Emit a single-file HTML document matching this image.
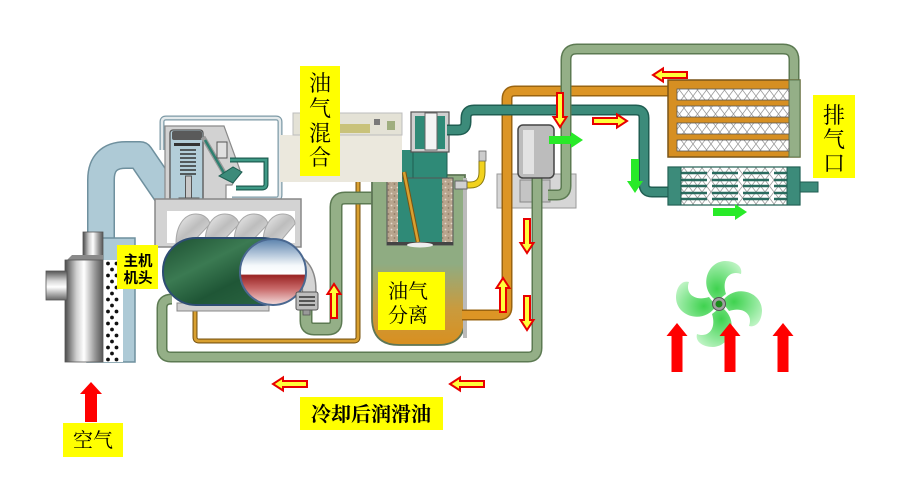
<!DOCTYPE html>
<html><head><meta charset="utf-8">
<style>
html,body{margin:0;padding:0;background:#fff;}
svg{display:block;}
.s{font-family:"Liberation Serif","Noto Serif CJK SC",serif;fill:#000;}
.h{font-family:"Liberation Sans","Noto Sans CJK SC",sans-serif;fill:#000;font-weight:bold;}
</style></head><body>
<svg width="900" height="500" viewBox="0 0 900 500" xmlns="http://www.w3.org/2000/svg">
<defs>
 <linearGradient id="metal" x1="0" x2="1" y1="0" y2="0">
  <stop offset="0" stop-color="#4a4a4a"/><stop offset="0.3" stop-color="#cfcfcf"/><stop offset="0.5" stop-color="#ffffff"/><stop offset="0.78" stop-color="#9a9a9a"/><stop offset="1" stop-color="#555"/>
 </linearGradient>
 <linearGradient id="metalv" x1="0" x2="0" y1="0" y2="1">
  <stop offset="0" stop-color="#555"/><stop offset="0.35" stop-color="#d8d8d8"/><stop offset="0.55" stop-color="#fff"/><stop offset="1" stop-color="#666"/>
 </linearGradient>
 <pattern id="dots" x="103" y="260" width="20" height="12" patternUnits="userSpaceOnUse">
  <rect width="20" height="12" fill="#fff"/>
  <circle cx="5" cy="3.5" r="1.9" fill="#111"/><circle cx="13.5" cy="3.5" r="1.9" fill="#111"/>
  <circle cx="9" cy="9.5" r="1.9" fill="#111"/>
 </pattern>
 <pattern id="xh" width="18" height="12" patternUnits="userSpaceOnUse">
  <rect width="18" height="12" fill="#fff"/>
  <path d="M0,0 L9,12 L18,0 M0,12 L9,0 L18,12" stroke="#9a9a9a" stroke-width="0.8" fill="none"/>
 </pattern>
 <pattern id="brown" width="6" height="6" patternUnits="userSpaceOnUse">
  <rect width="6" height="6" fill="#b8a58e"/>
  <circle cx="1.5" cy="1.5" r="0.9" fill="#e6dccd"/><circle cx="4.5" cy="4" r="0.9" fill="#8c7a64"/>
 </pattern>
 <linearGradient id="sep" x1="0" x2="0" y1="175" y2="346" gradientUnits="userSpaceOnUse">
  <stop offset="0" stop-color="#8fac82"/><stop offset="0.52" stop-color="#8fac82"/><stop offset="0.78" stop-color="#c99b3e"/><stop offset="1" stop-color="#d98f1f"/>
 </linearGradient>
 <linearGradient id="ball" x1="0" x2="0" y1="0" y2="1">
  <stop offset="0" stop-color="#5b82ad"/><stop offset="0.4" stop-color="#f4f8fb"/><stop offset="0.53" stop-color="#ffffff"/><stop offset="0.55" stop-color="#9a2424"/><stop offset="0.75" stop-color="#c86868"/><stop offset="1" stop-color="#f4dede"/>
 </linearGradient>
 <linearGradient id="rot" x1="0" x2="1" y1="0" y2="1">
  <stop offset="0" stop-color="#1c4f31"/><stop offset="0.35" stop-color="#3b7a52"/><stop offset="0.6" stop-color="#1f5636"/><stop offset="1" stop-color="#2f6a45"/>
 </linearGradient>
 <linearGradient id="lobe" x1="0" x2="1" y1="0" y2="1">
  <stop offset="0" stop-color="#f2f2f2"/><stop offset="0.5" stop-color="#bdbdbd"/><stop offset="1" stop-color="#e6e6e6"/>
 </linearGradient>
 <radialGradient id="blade" cx="0.3" cy="0.7" r="0.9">
  <stop offset="0" stop-color="#3fd24f"/><stop offset="0.6" stop-color="#8fe89a"/><stop offset="1" stop-color="#c8f6cc"/>
 </radialGradient>
 <path id="ha" d="M-17,-3 L7,-3 L7,-6.5 L17,0 L7,6.5 L7,3 L-17,3 Z" fill="#ffff3a" stroke="#e80000" stroke-width="2" stroke-linejoin="miter"/>
 <path id="ga" d="M-17,-4 L5,-4 L5,-8 L17,0 L5,8 L5,4 L-17,4 Z" fill="#28ea28"/>
 <path id="bl" d="M-2,-3 C-20,-14 -14,-42 6,-43 C17,-43 24,-37 22,-30 C12,-34 2,-26 7,-10 Z" fill="url(#blade)"/>
</defs>

<!-- thermostat base -->
<rect x="497" y="174" width="79" height="34" fill="#d6d6d6" stroke="#9a9a9a" stroke-width="1"/>
<path d="M520,180 h30 v22 h-30 z" fill="#c4c4c4" stroke="#888" stroke-width="1"/>

<!-- blue intake pipe -->
<path d="M101,362 L101,180 Q101,155 126,155 L140,155 L170,199" fill="none" stroke="#6f909e" stroke-width="28" stroke-linejoin="round"/>
<path d="M101,362 L101,180 Q101,155 126,155 L140,155 L170,199" fill="none" stroke="#aecad6" stroke-width="25" stroke-linejoin="round"/>
<rect x="87" y="238" width="48" height="124" fill="#aecad6" stroke="#6f909e" stroke-width="1.5"/>

<!-- valve housing frame -->
<path d="M162,150 L162,122 Q162,118 166,118 L276,118 Q280,118 280,122 L280,195 Q280,199 276,199 L232,199" fill="none" stroke="#7d9aa6" stroke-width="5"/>
<path d="M162,150 L162,122 Q162,118 166,118 L276,118 Q280,118 280,122 L280,195 Q280,199 276,199 L232,199" fill="none" stroke="#e4eaec" stroke-width="2.5"/>
<!-- valve gray body -->
<path d="M165,150 L165,126 L224,126 L240,170 L232,185 L226,185 L226,205 L165,205 Z" fill="#d2d2d2" stroke="#8a8a8a" stroke-width="1.2"/>
<rect x="170" y="130" width="33" height="73" rx="3" fill="#b3ced9" stroke="#555" stroke-width="1.3"/>
<rect x="172" y="131" width="30" height="9" rx="2" fill="#5a5a5a"/>
<rect x="174" y="143" width="26" height="3" fill="#333"/>
<g stroke="#333" stroke-width="1.6" fill="none">
 <path d="M180,150 h16 M180,154 h16 M180,158 h16 M180,162 h16 M180,166 h16 M180,170 h16 M180,174 h16"/>
</g>
<rect x="185.5" y="176" width="6" height="24" fill="#c8c8c8" stroke="#555" stroke-width="1"/>
<rect x="179" y="198" width="20" height="5" fill="#aaa" stroke="#555" stroke-width="1"/>
<path d="M203,137 L226,176" stroke="#9a9a9a" stroke-width="5"/>
<path d="M205,140 L224,173" stroke="#2f8070" stroke-width="2.5"/>
<path d="M219,176 L233,167 L242,172 L233,183 L227,180 Z" fill="#3c8b7a" stroke="#1f5e52" stroke-width="1"/>
<rect x="217" y="142" width="10" height="16" fill="#e0e0e0" stroke="#555" stroke-width="1"/>
<path d="M230,160 L266,160 L266,184 Q266,188 262,188 L236,188" fill="none" stroke="#1f5e52" stroke-width="5"/>
<path d="M230,160 L266,160 L266,184 Q266,188 262,188 L236,188" fill="none" stroke="#3f9a86" stroke-width="2.5"/>
<rect x="163" y="201" width="62" height="10" fill="#aecad6" stroke="#888" stroke-width="1"/>

<!-- orange thin pipe -->
<path d="M195,305 L195,337 Q195,341 199,341 L354,341 Q358,341 358,337 L358,172 Q358,162 370,162 L401,162 Q406,165 406,175 L418,242" fill="none" stroke="#7a5512" stroke-width="5"/>
<path d="M195,305 L195,337 Q195,341 199,341 L354,341 Q358,341 358,337 L358,172 Q358,162 370,162 L401,162 Q406,165 406,175 L418,242" fill="none" stroke="#d9a030" stroke-width="2.8"/>

<!-- green bottom loop -->
<path d="M537,178 L537,348 Q537,357 528,357 L171,357 Q162,357 162,348 L162,308 Q162,299 172,299" fill="none" stroke="#5c7a52" stroke-width="11"/>
<path d="M537,178 L537,348 Q537,357 528,357 L171,357 Q162,357 162,348 L162,308 Q162,299 172,299" fill="none" stroke="#94af87" stroke-width="8"/>
<!-- green filter -> separator -->
<path d="M306,308 L306,321 Q306,329 314,329 L328,329 Q336,329 336,321 L336,207 Q336,198 345,198 L378,198" fill="none" stroke="#5c7a52" stroke-width="13"/>
<path d="M306,308 L306,321 Q306,329 314,329 L328,329 Q336,329 336,321 L336,207 Q336,198 345,198 L378,198" fill="none" stroke="#94af87" stroke-width="10"/>

<!-- compressor housing -->
<rect x="155" y="199" width="146" height="48" fill="#d3d3d3" stroke="#888" stroke-width="1.5"/>
<rect x="167" y="211" width="128" height="32" fill="#fff"/>
<g stroke="#a8a8a8" stroke-width="1" fill="url(#lobe)">
 <path d="M176,243 C176,226 184,214 196,214 C204,214 209,219 210,224 L192,243 Z"/>
 <path d="M205,243 C205,226 213,214 225,214 C233,214 238,219 239,224 L221,243 Z"/>
 <path d="M234,243 C234,226 242,214 254,214 C262,214 267,219 268,224 L250,243 Z"/>
 <path d="M263,243 C263,226 271,214 283,214 C291,214 295,219 295,224 L279,243 Z"/>
</g>
<!-- gray pipe circle->filter -->
<path d="M285,258 Q311,262 309,294" fill="none" stroke="#888" stroke-width="15"/>
<path d="M285,258 Q311,262 309,294" fill="none" stroke="#d4d4d4" stroke-width="12"/>
<rect x="177" y="303" width="92" height="8" fill="#d0d0d0" stroke="#888" stroke-width="1"/>
<rect x="163" y="238" width="132" height="67" rx="33" fill="url(#rot)" stroke="#2d4d73" stroke-width="2"/>
<circle cx="273" cy="272" r="33" fill="url(#ball)" stroke="#4a6890" stroke-width="2"/>
<!-- small oil filter -->
<rect x="296" y="292" width="22" height="18" rx="2" fill="#bdbdbd" stroke="#555" stroke-width="1"/>
<path d="M299,297 h16 M299,301 h16 M299,305 h16" stroke="#333" stroke-width="1.5"/>
<rect x="303" y="310" width="7" height="5" fill="#999" stroke="#555" stroke-width="0.8"/>

<!-- intake cylinder -->
<rect x="103" y="260" width="20" height="102" fill="url(#dots)"/>
<rect x="83" y="232" width="20" height="28" fill="url(#metal)" stroke="#555" stroke-width="0.8"/>
<path d="M65,262 L72,255 L103,255 L103,262 Z" fill="#8a8a8a"/>
<rect x="65" y="260" width="38" height="102" fill="url(#metal)" stroke="#555" stroke-width="0.8"/>
<rect x="46" y="271" width="21" height="29" fill="url(#metalv)" stroke="#555" stroke-width="0.8"/>

<!-- separator -->
<path d="M372,175 L465,175 L465,318 Q465,345 438,345 L399,345 Q372,345 372,318 Z" fill="url(#sep)" stroke="#5e7656" stroke-width="1.8"/>
<rect x="398" y="150" width="45" height="95" fill="#2f8a77"/>
<rect x="413" y="150" width="34" height="28" fill="#2f8a77" stroke="#1f5e52" stroke-width="1"/>
<rect x="387" y="178" width="11" height="66" fill="url(#brown)"/>
<rect x="442" y="178" width="11" height="66" fill="url(#brown)"/>
<rect x="387" y="178" width="66" height="67" fill="none" stroke="#555" stroke-width="1"/>
<rect x="387" y="242" width="66" height="3" fill="#444"/>
<ellipse cx="420" cy="245" rx="13" ry="2.5" fill="#eee"/>
<path d="M404,172 L418,242" stroke="#7a5512" stroke-width="4.5"/>
<path d="M404,172 L418,242" stroke="#d9a030" stroke-width="2.5"/>
<rect x="411" y="112" width="38" height="40" fill="#d0d0d0" stroke="#555" stroke-width="1.2"/>
<rect x="415" y="116" width="30" height="33" fill="#2f8a77"/>
<rect x="425" y="113" width="12" height="37" fill="#f4f4f4" stroke="#666" stroke-width="1"/>
<rect x="463" y="178" width="4" height="160" fill="#bbb"/>
<path d="M465,185 L470,185 Q482,185 482,172 L482,161" fill="none" stroke="#8a7a10" stroke-width="7"/>
<path d="M465,185 L470,185 Q482,185 482,172 L482,161" fill="none" stroke="#f2d21e" stroke-width="5"/>
<rect x="455" y="181" width="12" height="8" fill="#d0d0d0" stroke="#666" stroke-width="1"/>
<rect x="479" y="151" width="7" height="10" fill="#ccc" stroke="#666" stroke-width="0.8"/>

<!-- orange main pipe -->
<path d="M462,315 L499,315 Q507,315 507,307 L507,99 Q507,91 515,91 L672,91" fill="none" stroke="#9a6410" stroke-width="11"/>
<path d="M462,315 L499,315 Q507,315 507,307 L507,99 Q507,91 515,91 L672,91" fill="none" stroke="#dc9525" stroke-width="8"/>
<!-- teal pipe -->
<path d="M447,130 L458,130 Q466,130 466,122 L466,118 Q466,110 474,110 L636,110 Q644,110 644,118 L644,184 Q644,192 652,192 L670,192" fill="none" stroke="#1f5e52" stroke-width="11"/>
<path d="M447,130 L458,130 Q466,130 466,122 L466,118 Q466,110 474,110 L636,110 Q644,110 644,118 L644,184 Q644,192 652,192 L670,192" fill="none" stroke="#3c8b7a" stroke-width="8"/>
<!-- green top pipe -->
<path d="M794,82 L794,60 Q794,49 783,49 L577,49 Q566,49 566,60 L566,186 Q566,195 557,195 L548,195" fill="none" stroke="#5c7a52" stroke-width="11"/>
<path d="M794,82 L794,60 Q794,49 783,49 L577,49 Q566,49 566,60 L566,186 Q566,195 557,195 L548,195" fill="none" stroke="#94af87" stroke-width="8"/>
<!-- thermostat upper -->
<rect x="518" y="125" width="36" height="53" rx="5" fill="#bcbcbc" stroke="#444" stroke-width="1.5"/>
<rect x="523" y="130" width="11" height="44" fill="#e2e2e2"/>

<!-- oil cooler -->
<rect x="668" y="80" width="132" height="77" fill="#d68f22" stroke="#7a5518" stroke-width="1.5"/>
<rect x="789" y="80" width="11" height="77" fill="#94af87" stroke="#5c7a52" stroke-width="1"/>
<g fill="url(#xh)" stroke="#555" stroke-width="0.8">
 <rect x="677" y="89" width="112" height="11"/>
 <rect x="677" y="106" width="112" height="11"/>
 <rect x="677" y="123" width="112" height="11"/>
 <rect x="677" y="140" width="112" height="11"/>
</g>
<!-- aftercooler -->
<rect x="668" y="167" width="132" height="38" fill="url(#xh)" stroke="#1f5e52" stroke-width="1.2"/>
<g stroke="#2a6b5e" stroke-width="2.5" stroke-dasharray="26 5">
 <path d="M681,173 H787 M681,180 H787 M681,186 H787 M681,193 H787 M681,199 H787"/>
</g>
<rect x="668" y="167" width="13" height="38" fill="#3c8b7a" stroke="#1f5e52" stroke-width="1"/>
<rect x="787" y="167" width="13" height="38" fill="#3c8b7a" stroke="#1f5e52" stroke-width="1"/>
<rect x="800" y="182" width="18" height="10" fill="#3c8b7a" stroke="#1f5e52" stroke-width="1"/>

<!-- beige panel -->
<rect x="280" y="135" width="122" height="47" fill="#ebe8dd"/>
<rect x="293" y="113" width="109" height="22" fill="#e4e2d6" stroke="#bdbdbd" stroke-width="1"/>
<rect x="340" y="124" width="30" height="9" fill="#c9c27a"/>
<rect x="374" y="119" width="6" height="6" fill="#7a7a7a"/>
<rect x="387" y="121" width="8" height="9" fill="#9fae7f"/>

<!-- labels -->
<rect x="300" y="66" width="40" height="110" fill="#ffff00"/>
<text class="s" font-size="22" text-anchor="middle"><tspan x="320" y="91">油</tspan><tspan x="320" y="116">气</tspan><tspan x="320" y="141">混</tspan><tspan x="320" y="165">合</tspan></text>
<rect x="813" y="95" width="42" height="83" fill="#ffff00"/>
<text class="s" font-size="22" text-anchor="middle"><tspan x="834" y="123">排</tspan><tspan x="834" y="147">气</tspan><tspan x="834" y="171">口</tspan></text>
<rect x="378" y="272" width="67" height="58" fill="#ffff00"/>
<text class="s" font-size="20" text-anchor="middle"><tspan x="408" y="298">油气</tspan><tspan x="408" y="322">分离</tspan></text>
<rect x="117" y="245" width="41" height="44" fill="#ffff00"/>
<text class="h" font-size="14.5" text-anchor="middle"><tspan x="138" y="266">主机</tspan><tspan x="138" y="283">机头</tspan></text>
<rect x="300" y="397" width="143" height="33" fill="#ffff00"/>
<text class="s" font-size="20" font-weight="bold" text-anchor="middle" x="371" y="421">冷却后润滑油</text>
<rect x="63" y="423" width="60" height="34" fill="#ffff00"/>
<text class="s" font-size="20" text-anchor="middle" x="93" y="447">空气</text>

<!-- hollow arrows -->
<use href="#ha" transform="translate(290,384) rotate(180)"/>
<use href="#ha" transform="translate(467,384) rotate(180)"/>
<use href="#ha" transform="translate(334,301) rotate(-90)"/>
<use href="#ha" transform="translate(503,295) rotate(-90)"/>
<use href="#ha" transform="translate(527,236) rotate(90)"/>
<use href="#ha" transform="translate(527,313) rotate(90)"/>
<use href="#ha" transform="translate(560,110) rotate(90)"/>
<use href="#ha" transform="translate(610,121)"/>
<use href="#ha" transform="translate(670,75) rotate(180)"/>
<!-- green arrows -->
<use href="#ga" transform="translate(566,140)"/>
<use href="#ga" transform="translate(635,176) rotate(90)"/>
<use href="#ga" transform="translate(730,212)"/>

<!-- fan -->
<g transform="translate(719,304)">
 <use href="#bl"/>
 <use href="#bl" transform="rotate(90)"/>
 <use href="#bl" transform="rotate(180)"/>
 <use href="#bl" transform="rotate(270)"/>
 <circle r="6.5" fill="#a0a0a0" stroke="#555" stroke-width="1"/>
 <circle r="3.5" fill="#1a8a1a"/>
</g>
<!-- red arrows -->
<path d="M-6,20 L-6,-8 L-11,-8 L0,-20 L11,-8 L6,-8 L6,20 Z" fill="#ff0000" transform="translate(91,402)"/>
<g fill="#ff0000">
 <path d="M-5.5,24 L-5.5,-12 L-10.5,-12 L0,-25 L10.5,-12 L5.5,-12 L5.5,24Z" transform="translate(677,348)"/>
 <path d="M-5.5,24 L-5.5,-12 L-10.5,-12 L0,-25 L10.5,-12 L5.5,-12 L5.5,24Z" transform="translate(730,348)"/>
 <path d="M-5.5,24 L-5.5,-12 L-10.5,-12 L0,-25 L10.5,-12 L5.5,-12 L5.5,24Z" transform="translate(783,348)"/>
</g>
</svg>
</body></html>
